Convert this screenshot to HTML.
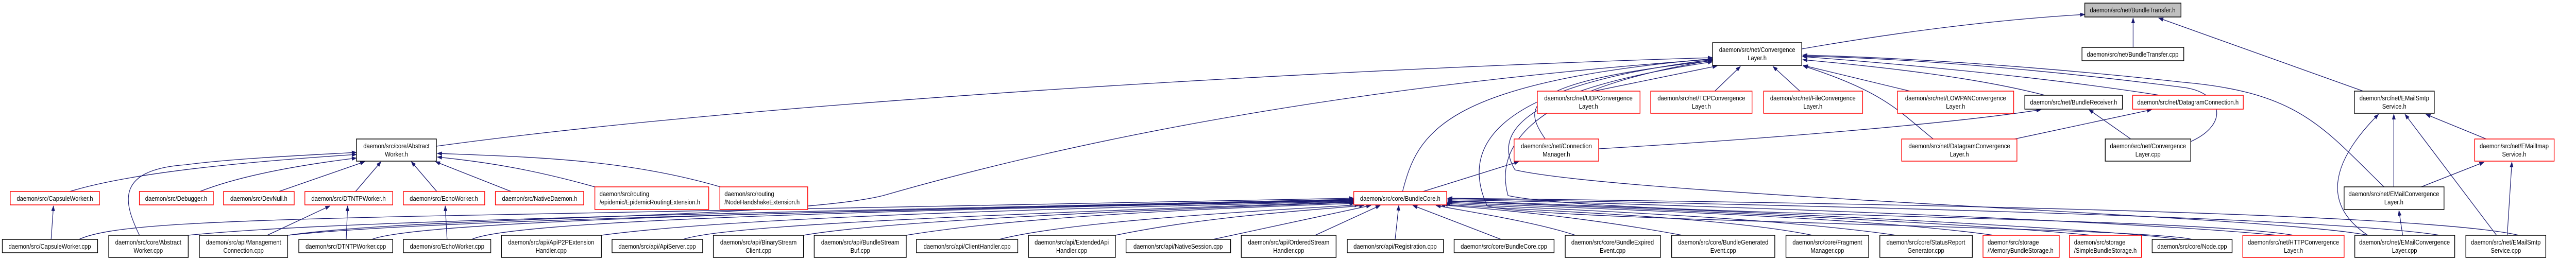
<!DOCTYPE html>
<html><head><meta charset="utf-8"><style>
html,body{margin:0;padding:0;background:#fff;width:100%;height:100%;overflow:hidden;}
svg{display:block;width:100vw;height:100vh;}
text{font-family:"Liberation Sans",Arial,sans-serif;font-size:12.5px;fill:#000;}
.e{fill:none;stroke:#191970;stroke-width:1.3;marker-end:url(#a);}
.k{fill:#fff;stroke:#000;stroke-width:1.5;}
.r{fill:#fff;stroke:#ff0000;stroke-width:1.5;}
</style></head><body>
<svg viewBox="0 0 5543 507" preserveAspectRatio="none" xmlns="http://www.w3.org/2000/svg">
<defs><marker id="a" markerUnits="userSpaceOnUse" markerWidth="11" markerHeight="8" refX="10" refY="4" orient="auto"><path d="M0,0 L11,4 L0,8 z" fill="#191970"/></marker></defs>

<path class="e" d="M3877,95 C4100,60 4300,38 4486,28"/>
<path class="e" d="M4590,92 L4590,35"/>
<path class="e" d="M5085,177 L4645,35"/>

<path class="e" d="M939,284 C1700,190 3000,130 3685,112"/>
<path class="e" d="M3430,177 L3695,128"/>
<path class="e" d="M3690,177 L3745,129"/>
<path class="e" d="M3873,177 L3815,129"/>
<path class="e" d="M4110,177 L3880,127"/>
<path class="e" d="M4400,185 C4250,150 4050,130 3879,116"/>
<path class="e" d="M4647,185 C4400,150 4100,125 3879,110"/>
<path class="e" d="M4160,270 C4090,220 4060,180 3880,128"/>
<path class="e" d="M3325,270 C3280,210 3260,160 3685,118"/>
<path class="e" d="M3018,372 C3050,260 3100,160 3685,114"/>
<path class="e" d="M5130,363 C5000,250 4950,180 4700,160 C4400,130 4100,112 3879,107"/>
<path class="e" d="M4714,275 C4800,240 4780,180 4700,170 C4400,135 4100,113 3879,109"/>
<path class="e" d="M4717,465 C4600,440 3300,430 3200,400 C3150,300 3180,170 3685,116"/>
<path class="e" d="M4935,457 C4700,420 3450,420 3245,380 C3220,300 3260,180 3685,117"/>
<path class="e" d="M5095,457 C4900,420 3500,380 3260,330 C3220,270 3240,180 3685,120"/>
<path class="e" d="M620,457 C900,420 1700,425 1900,380 C2400,250 3000,160 3685,115"/>

<path class="e" d="M150,372 C300,330 600,310 767,300"/>
<path class="e" d="M430,372 C520,340 650,320 767,307"/>
<path class="e" d="M600,372 L785,314"/>
<path class="e" d="M765,372 L820,314"/>
<path class="e" d="M940,372 L885,314"/>
<path class="e" d="M1100,372 L937,314"/>
<path class="e" d="M1280,363 C1150,330 1050,315 941,305"/>
<path class="e" d="M1550,363 C1350,310 1150,305 941,298"/>
<path class="e" d="M300,457 C270,400 240,330 400,320 C500,308 650,302 767,296"/>

<path class="e" d="M110,465 L115,400"/>
<path class="e" d="M745,465 L748,400"/>
<path class="e" d="M575,457 L710,400"/>
<path class="e" d="M962,465 L958,400"/>

<path class="e" d="M170,465 C230,440 400,430 900,420 C2000,400 2600,390 2913,385"/>
<path class="e" d="M405,457 C700,430 1500,415 2913,387"/>
<path class="e" d="M619,457 C900,430 1600,415 2913,388"/>
<path class="e" d="M800,465 C900,430 1700,410 2913,389"/>
<path class="e" d="M1015,465 C1100,430 1800,410 2913,390"/>
<path class="e" d="M1294,457 C1600,420 2300,405 2913,391"/>
<path class="e" d="M1470,465 C1550,440 2000,420 2913,392"/>
<path class="e" d="M1729,457 C1900,430 2400,410 2913,393"/>
<path class="e" d="M1950,457 C2200,420 2600,405 2915,395"/>
<path class="e" d="M2150,465 C2300,430 2700,410 2925,398"/>
<path class="e" d="M2400,457 C2600,420 2800,410 2935,399"/>
<path class="e" d="M2610,465 L2950,399"/>
<path class="e" d="M2830,457 L2970,399"/>
<path class="e" d="M3002,465 L3010,399"/>
<path class="e" d="M3230,465 L3040,399"/>
<path class="e" d="M3390,457 C3300,430 3150,410 3090,399"/>
<path class="e" d="M3620,457 C3400,420 3200,405 3100,398"/>
<path class="e" d="M3900,457 C3700,420 3300,410 3105,397"/>
<path class="e" d="M4080,457 C3800,420 3300,405 3110,395"/>
<path class="e" d="M4290,457 C4000,420 3400,405 3115,393"/>
<path class="e" d="M4500,457 C4200,430 3400,400 3115,391"/>
<path class="e" d="M4690,465 C4500,440 3500,400 3115,390"/>
<path class="e" d="M4900,457 C4600,430 3600,395 3115,388"/>
<path class="e" d="M5250,457 C5000,420 3700,395 3115,386"/>
<path class="e" d="M5420,457 C5200,410 3800,392 3115,385"/>

<path class="e" d="M3062,372 L3268,314"/>
<path class="e" d="M3440,289 C3800,270 4200,240 4392,213"/>
<path class="e" d="M4335,270 L4630,213"/>
<path class="e" d="M4585,270 L4495,213"/>

<path class="e" d="M5151,363 L5151,222"/>
<path class="e" d="M5350,270 L5220,222"/>
<path class="e" d="M5210,363 L5345,315"/>
<path class="e" d="M5170,457 L5162,409"/>
<path class="e" d="M5095,457 C5000,400 5010,320 5118,222"/>
<path class="e" d="M5372,457 L5175,222"/>
<path class="e" d="M5395,457 L5405,315"/>

<rect x="4486" y="6" width="207" height="27" fill="#bfbfbf" stroke="#000" stroke-width="1.5"/>
<text x="4589" y="24" text-anchor="middle">daemon/src/net/BundleTransfer.h</text>

<rect class="k" x="4480" y="92" width="219" height="26"/>
<text x="4589" y="110" text-anchor="middle">daemon/src/net/BundleTransfer.cpp</text>

<rect class="k" x="3685" y="83" width="192" height="44"/>
<text x="3781" y="101" text-anchor="middle">daemon/src/net/Convergence</text>
<text x="3781" y="117" text-anchor="middle">Layer.h</text>

<rect class="r" x="3308" y="177" width="221" height="43"/>
<text x="3418" y="195" text-anchor="middle">daemon/src/net/UDPConvergence</text>
<text x="3418" y="211" text-anchor="middle">Layer.h</text>
<rect class="r" x="3552" y="177" width="218" height="43"/>
<text x="3661" y="195" text-anchor="middle">daemon/src/net/TCPConvergence</text>
<text x="3661" y="211" text-anchor="middle">Layer.h</text>
<rect class="r" x="3795" y="177" width="213" height="43"/>
<text x="3901" y="195" text-anchor="middle">daemon/src/net/FileConvergence</text>
<text x="3901" y="211" text-anchor="middle">Layer.h</text>
<rect class="r" x="4083" y="177" width="250" height="43"/>
<text x="4208" y="195" text-anchor="middle">daemon/src/net/LOWPANConvergence</text>
<text x="4208" y="211" text-anchor="middle">Layer.h</text>
<rect class="k" x="4357" y="185" width="210" height="27"/>
<text x="4462" y="203" text-anchor="middle">daemon/src/net/BundleReceiver.h</text>
<rect class="r" x="4589" y="185" width="238" height="27"/>
<text x="4708" y="203" text-anchor="middle">daemon/src/net/DatagramConnection.h</text>
<rect class="k" x="5066" y="177" width="172" height="43"/>
<text x="5152" y="195" text-anchor="middle">daemon/src/net/EMailSmtp</text>
<text x="5152" y="211" text-anchor="middle">Service.h</text>

<rect class="k" x="767" y="270" width="172" height="43"/>
<text x="853" y="288" text-anchor="middle">daemon/src/core/Abstract</text>
<text x="853" y="304" text-anchor="middle">Worker.h</text>
<rect class="r" x="3258" y="270" width="182" height="43"/>
<text x="3349" y="288" text-anchor="middle">daemon/src/net/Connection</text>
<text x="3349" y="304" text-anchor="middle">Manager.h</text>
<rect class="r" x="4092" y="270" width="248" height="43"/>
<text x="4216" y="288" text-anchor="middle">daemon/src/net/DatagramConvergence</text>
<text x="4216" y="304" text-anchor="middle">Layer.h</text>
<rect class="k" x="4530" y="270" width="184" height="43"/>
<text x="4622" y="288" text-anchor="middle">daemon/src/net/Convergence</text>
<text x="4622" y="304" text-anchor="middle">Layer.cpp</text>
<rect class="r" x="5325" y="270" width="171" height="43"/>
<text x="5410" y="288" text-anchor="middle">daemon/src/net/EMailImap</text>
<text x="5410" y="304" text-anchor="middle">Service.h</text>

<rect class="r" x="22" y="372" width="192" height="26"/>
<text x="118" y="390" text-anchor="middle">daemon/src/CapsuleWorker.h</text>
<rect class="r" x="300" y="372" width="159" height="26"/>
<text x="379" y="390" text-anchor="middle">daemon/src/Debugger.h</text>
<rect class="r" x="481" y="372" width="152" height="26"/>
<text x="557" y="390" text-anchor="middle">daemon/src/DevNull.h</text>
<rect class="r" x="656" y="372" width="189" height="26"/>
<text x="750" y="390" text-anchor="middle">daemon/src/DTNTPWorker.h</text>
<rect class="r" x="868" y="372" width="175" height="26"/>
<text x="955" y="390" text-anchor="middle">daemon/src/EchoWorker.h</text>
<rect class="r" x="1066" y="372" width="190" height="26"/>
<text x="1161" y="390" text-anchor="middle">daemon/src/NativeDaemon.h</text>
<rect class="r" x="1280" y="363" width="245" height="44"/>
<text x="1290" y="381">daemon/src/routing</text>
<text x="1290" y="397">/epidemic/EpidemicRoutingExtension.h</text>
<rect class="r" x="1549" y="363" width="189" height="44"/>
<text x="1559" y="381">daemon/src/routing</text>
<text x="1559" y="397">/NodeHandshakeExtension.h</text>
<rect class="r" x="2913" y="372" width="200" height="26"/>
<text x="3013" y="390" text-anchor="middle">daemon/src/core/BundleCore.h</text>
<rect class="k" x="5044" y="363" width="215" height="44"/>
<text x="5151" y="381" text-anchor="middle">daemon/src/net/EMailConvergence</text>
<text x="5151" y="397" text-anchor="middle">Layer.h</text>

<rect class="k" x="5" y="465" width="205" height="26"/>
<text x="107" y="483" text-anchor="middle">daemon/src/CapsuleWorker.cpp</text>
<rect class="k" x="234" y="457" width="171" height="43"/>
<text x="319" y="475" text-anchor="middle">daemon/src/core/Abstract</text>
<text x="319" y="491" text-anchor="middle">Worker.cpp</text>
<rect class="k" x="429" y="457" width="190" height="43"/>
<text x="524" y="475" text-anchor="middle">daemon/src/api/Management</text>
<text x="524" y="491" text-anchor="middle">Connection.cpp</text>
<rect class="k" x="643" y="465" width="202" height="26"/>
<text x="744" y="483" text-anchor="middle">daemon/src/DTNTPWorker.cpp</text>
<rect class="k" x="868" y="465" width="188" height="26"/>
<text x="962" y="483" text-anchor="middle">daemon/src/EchoWorker.cpp</text>
<rect class="k" x="1079" y="457" width="215" height="43"/>
<text x="1186" y="475" text-anchor="middle">daemon/src/api/ApiP2PExtension</text>
<text x="1186" y="491" text-anchor="middle">Handler.cpp</text>
<rect class="k" x="1317" y="465" width="195" height="26"/>
<text x="1414" y="483" text-anchor="middle">daemon/src/api/ApiServer.cpp</text>
<rect class="k" x="1535" y="457" width="194" height="43"/>
<text x="1632" y="475" text-anchor="middle">daemon/src/api/BinaryStream</text>
<text x="1632" y="491" text-anchor="middle">Client.cpp</text>
<rect class="k" x="1752" y="457" width="198" height="43"/>
<text x="1851" y="475" text-anchor="middle">daemon/src/api/BundleStream</text>
<text x="1851" y="491" text-anchor="middle">Buf.cpp</text>
<rect class="k" x="1972" y="465" width="218" height="26"/>
<text x="2081" y="483" text-anchor="middle">daemon/src/api/ClientHandler.cpp</text>
<rect class="k" x="2213" y="457" width="187" height="43"/>
<text x="2306" y="475" text-anchor="middle">daemon/src/api/ExtendedApi</text>
<text x="2306" y="491" text-anchor="middle">Handler.cpp</text>
<rect class="k" x="2423" y="465" width="225" height="26"/>
<text x="2535" y="483" text-anchor="middle">daemon/src/api/NativeSession.cpp</text>
<rect class="k" x="2671" y="457" width="204" height="43"/>
<text x="2773" y="475" text-anchor="middle">daemon/src/api/OrderedStream</text>
<text x="2773" y="491" text-anchor="middle">Handler.cpp</text>
<rect class="k" x="2899" y="465" width="207" height="26"/>
<text x="3002" y="483" text-anchor="middle">daemon/src/api/Registration.cpp</text>
<rect class="k" x="3129" y="465" width="215" height="26"/>
<text x="3236" y="483" text-anchor="middle">daemon/src/core/BundleCore.cpp</text>
<rect class="k" x="3368" y="457" width="205" height="43"/>
<text x="3470" y="475" text-anchor="middle">daemon/src/core/BundleExpired</text>
<text x="3470" y="491" text-anchor="middle">Event.cpp</text>
<rect class="k" x="3597" y="457" width="222" height="43"/>
<text x="3708" y="475" text-anchor="middle">daemon/src/core/BundleGenerated</text>
<text x="3708" y="491" text-anchor="middle">Event.cpp</text>
<rect class="k" x="3843" y="457" width="178" height="43"/>
<text x="3932" y="475" text-anchor="middle">daemon/src/core/Fragment</text>
<text x="3932" y="491" text-anchor="middle">Manager.cpp</text>
<rect class="k" x="4045" y="457" width="199" height="43"/>
<text x="4144" y="475" text-anchor="middle">daemon/src/core/StatusReport</text>
<text x="4144" y="491" text-anchor="middle">Generator.cpp</text>
<rect class="r" x="4267" y="457" width="164" height="43"/>
<text x="4277" y="475">daemon/src/storage</text>
<text x="4277" y="491">/MemoryBundleStorage.h</text>
<rect class="r" x="4453" y="457" width="155" height="43"/>
<text x="4463" y="475">daemon/src/storage</text>
<text x="4463" y="491">/SimpleBundleStorage.h</text>
<rect class="k" x="4631" y="465" width="172" height="26"/>
<text x="4717" y="483" text-anchor="middle">daemon/src/core/Node.cpp</text>
<rect class="r" x="4826" y="457" width="218" height="43"/>
<text x="4935" y="475" text-anchor="middle">daemon/src/net/HTTPConvergence</text>
<text x="4935" y="491" text-anchor="middle">Layer.h</text>
<rect class="k" x="5067" y="457" width="215" height="43"/>
<text x="5174" y="475" text-anchor="middle">daemon/src/net/EMailConvergence</text>
<text x="5174" y="491" text-anchor="middle">Layer.cpp</text>
<rect class="k" x="5306" y="457" width="172" height="43"/>
<text x="5392" y="475" text-anchor="middle">daemon/src/net/EMailSmtp</text>
<text x="5392" y="491" text-anchor="middle">Service.cpp</text>
</svg>
</body></html>
